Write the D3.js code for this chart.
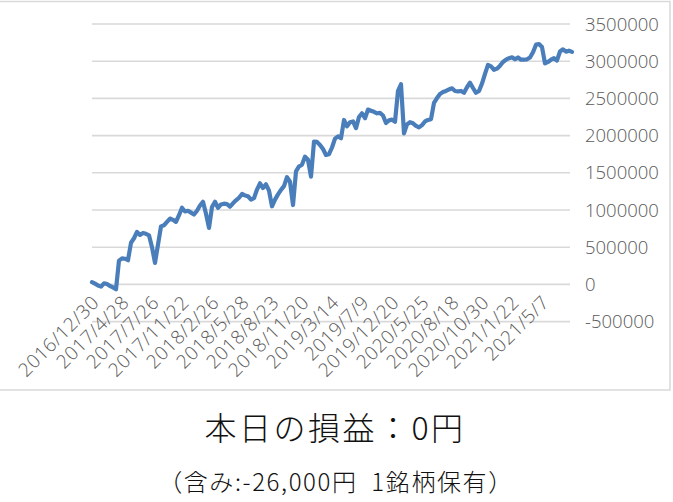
<!DOCTYPE html>
<html>
<head>
<meta charset="utf-8">
<script src="https://cdn.jsdelivr.net/npm/d3@7"></script>
<style>
  html, body { margin: 0; padding: 0; background: #ffffff; }
  svg { display: block; }
</style>
</head>
<body>
<script>
// ---- data ----
const tickLabels = ["2016/12/30","2017/4/28","2017/7/26","2017/11/22","2018/2/26","2018/5/28",
  "2018/8/23","2018/11/20","2019/3/14","2019/7/9","2019/12/20","2020/5/25","2020/8/18",
  "2020/10/30","2021/1/22","2021/5/7"];
const pointsPerLabel = 10;
const yTicks = [-500000, 0, 500000, 1000000, 1500000, 2000000, 2500000, 3000000, 3500000];
const pnl = [
  30000,10000,-15000,-30000,15000,5000,-22000,-40000,-66000,320000,
  350000,345000,325000,560000,620000,705000,665000,690000,680000,660000,
  500000,290000,535000,780000,795000,840000,885000,868000,840000,930000,
  1030000,980000,990000,965000,940000,990000,1060000,1110000,950000,760000,
  1040000,1110000,1030000,1075000,1085000,1080000,1044000,1090000,1130000,1165000,
  1215000,1195000,1185000,1140000,1160000,1275000,1359000,1295000,1345000,1260000,
  1050000,1140000,1210000,1270000,1320000,1440000,1380000,1067000,1520000,1585000,
  1610000,1717000,1675000,1448000,1918000,1915000,1875000,1820000,1740000,1750000,
  1840000,1960000,1990000,1964000,2210000,2125000,2180000,2190000,2100000,2250000,
  2300000,2233000,2350000,2335000,2320000,2300000,2305000,2270000,2170000,2205000,
  2215000,2187000,2600000,2690000,2030000,2150000,2180000,2165000,2130000,2110000,
  2140000,2190000,2210000,2220000,2440000,2505000,2560000,2585000,2600000,2620000,
  2636000,2600000,2595000,2600000,2575000,2650000,2711000,2640000,2575000,2600000,
  2700000,2830000,2950000,2930000,2885000,2900000,2940000,2990000,3020000,3040000,
  3052000,3025000,3050000,3020000,3020000,3025000,3050000,3120000,3222000,3230000,
  3190000,2970000,2990000,3020000,3040000,3010000,3130000,3160000,3128000,3141000,
  3125000
];
const titleText = "本日の損益：0円";
const subtitleText = "（含み:-26,000円  1銘柄保有）";

// ---- layout ----
const W = 673, H = 502;
const svg = d3.select("body").append("svg").attr("width", W).attr("height", H);

// chart frame
svg.append("rect")
  .attr("x", -1).attr("y", 1.5).attr("width", 671).attr("height", 388.5)
  .attr("fill", "none").attr("stroke", "#d9d9d9").attr("stroke-width", 1.5);

const x = d3.scaleLinear().domain([0, pnl.length - 1]).range([92, 572]);
const y = d3.scaleLinear().domain([-500000, 3500000]).range([321.6, 24]);

// gridlines
svg.append("g").selectAll("line").data(yTicks).join("line")
  .attr("x1", 92).attr("x2", 570)
  .attr("y1", d => y(d)).attr("y2", d => y(d))
  .attr("stroke", "#d9d9d9").attr("stroke-width", 1.6);

// right axis labels
svg.append("g").selectAll("text").data(yTicks).join("text")
  .attr("x", 585).attr("y", d => y(d))
  .attr("dy", "0.36em")
  .attr("font-family", "'Open Sans', sans-serif")
  .attr("font-weight", 300)
  .attr("font-size", 18.5)
  .attr("fill", "#595959")
  .text(d => String(d));

// x labels (rotated)
svg.append("g").selectAll("text").data(tickLabels).join("text")
  .attr("transform", (d, i) => `translate(${x(i * pointsPerLabel) + 3.5},299) rotate(-45)`)
  .attr("text-anchor", "end")
  .attr("dy", "0.36em")
  .attr("font-family", "'Open Sans', sans-serif")
  .attr("font-weight", 300)
  .attr("font-size", 19)
  .attr("letter-spacing", 0.5)
  .attr("fill", "#595959")
  .text(d => d);

// line
const line = d3.line().x((d, i) => x(i)).y(d => y(d));
svg.append("path")
  .datum(pnl)
  .attr("d", line)
  .attr("fill", "none")
  .attr("stroke", "#4a7ebb")
  .attr("stroke-width", 4.2)
  .attr("stroke-linejoin", "round")
  .attr("stroke-linecap", "round");

// title texts
svg.append("text")
  .attr("x", 335).attr("y", 440)
  .attr("text-anchor", "middle")
  .attr("font-family", "'Noto Sans CJK JP', sans-serif")
  .attr("font-weight", 300)
  .attr("font-size", 32)
  .attr("letter-spacing", 2.5)
  .attr("fill", "#111111")
  .text(titleText);

svg.append("text")
  .attr("x", 336).attr("y", 491)
  .attr("text-anchor", "middle")
  .attr("font-family", "'Noto Sans CJK JP', sans-serif")
  .attr("font-weight", 300)
  .attr("font-size", 24)
  .attr("letter-spacing", 1.6)
  .attr("fill", "#111111")
  .style("white-space", "pre")
  .text(subtitleText);
</script>
</body>
</html>
